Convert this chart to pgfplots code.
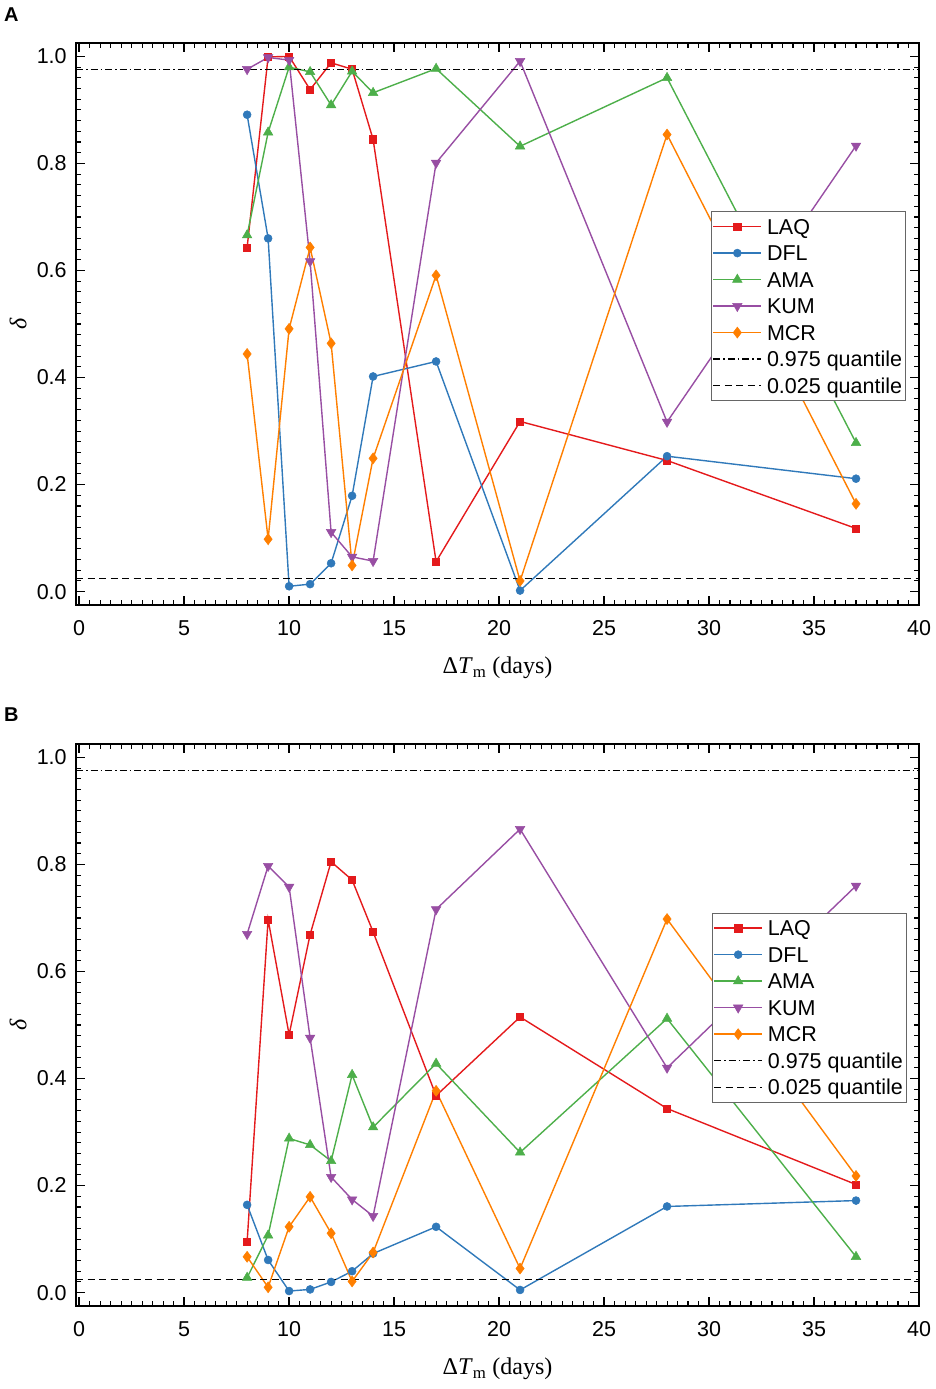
\documentclass[border=0pt]{standalone}
\usepackage{fontspec}
\setmainfont{Liberation Sans}
\newfontfamily\serifA{Liberation Serif}
\usepackage{pgfplots}
\pgfplotsset{compat=1.18}
\definecolor{cLAQ}{HTML}{E41A1C}
\definecolor{cDFL}{HTML}{3079BA}
\definecolor{cAMA}{HTML}{4DAF4A}
\definecolor{cKUM}{HTML}{984EA3}
\definecolor{cMCR}{HTML}{FF7F00}
\pgfplotsset{
 tl/.style={tick label style={font=\fontsize{21.5}{26}\selectfont},
  xticklabel style={yshift=-11.8pt},
  yticklabel style={xshift=-5.8pt, /pgf/number format/fixed, /pgf/number format/fixed zerofill, /pgf/number format/precision=1}},
 lb/.style={xlabel={{\serifA Δ\textit{T}\textsubscript{m} (days)}},
  ylabel={{\serifA\itshape δ}},
  label style={font=\fontsize{24}{28}\selectfont},
  xlabel style={at={(axis description cs:0.5,0)}, anchor=center, yshift=-63pt},
  ylabel style={at={(axis description cs:-0.0688,0.5)}, anchor=center}},
 lg/.style={legend cell align=left,
  legend style={font=\fontsize{21.5}{26}\selectfont, draw=black!60, line width=0.8pt,
    inner xsep=1pt, inner ysep=1.9pt, column sep=3pt,
    nodes={inner xsep=2pt, inner ysep=1pt, text height=20pt, text depth=4.5pt}}},
 li/.style={legend image code/.code={\draw[mark repeat=2,mark phase=2,##1] plot coordinates {(0pt,0pt) (24pt,0pt) (48pt,0pt)};}},
 base/.style={
  scale only axis, width=843pt, height=562pt,
  xmin=-0.15, xmax=40, ymin=-0.025, ymax=1.025,
  xtick={0,5,10,15,20,25,30,35,40},
  ytick={0,0.2,0.4,0.6,0.8,1.0},
  minor x tick num=9, minor y tick num=9,
  axis on top,
  tick align=inside, tick pos=both,
  major tick length=9pt, minor tick length=5pt,
  axis line style={black, line width=2pt},
  major tick style={black, line width=1.3pt},
  minor tick style={black, line width=1.1pt},
  /pgf/number format/assume math mode=true},
 sLAQ/.style={color=cLAQ, line width=1.4pt, mark=square*, mark size=3.6pt, mark options={solid, fill=cLAQ, line width=0.5pt}},
 sDFL/.style={color=cDFL, line width=1.4pt, mark=*, mark size=4pt, mark options={solid, fill=cDFL, line width=0.5pt}},
 sAMA/.style={color=cAMA, line width=1.4pt, mark=triangle*, mark size=5.5pt, mark options={solid, fill=cAMA, line width=0.5pt}},
 sKUM/.style={color=cKUM, line width=1.4pt, mark=triangle*, mark size=5.5pt, mark options={solid, fill=cKUM, line width=0.5pt, rotate=180}},
 sMCR/.style={color=cMCR, line width=1.4pt, mark=diamond*, mark size=5.5pt, mark options={solid, fill=cMCR, line width=0.5pt}},
 sQhi/.style={black, no markers, line width=1.2pt, dash pattern=on 7pt off 3pt on 1.5pt off 3pt},
 sQlo/.style={black, no markers, line width=1.3pt, dash pattern=on 7pt off 4.5pt},
}
\begin{document}
\begin{tikzpicture}
\path[use as bounding box] (0,0) rectangle (935pt,-1389pt);
\node[anchor=base west, inner sep=0pt, font=\fontsize{20}{24}\selectfont\bfseries] at (4pt,-22pt) {A};
\begin{axis}[tl, lb, lg, li, base,
  at={(76pt,-43pt)}, anchor=north west,
  legend style={at={(0.984,0.701)}, anchor=north east}]
\addplot[sLAQ] coordinates {(8,0.643)(9,0.999)(10,1.0)(11,0.938)(12,0.988)(13,0.976)(14,0.845)(17,0.056)(21,0.318)(28,0.245)(37,0.118)};
\addlegendentry{LAQ}
\addplot[sDFL] coordinates {(8,0.891)(9,0.660)(10,0.010)(11,0.014)(12,0.053)(13,0.179)(14,0.402)(17,0.430)(21,0.002)(28,0.253)(37,0.211)};
\addlegendentry{DFL}
\addplot[sAMA] coordinates {(8,0.666)(9,0.858)(10,0.980)(11,0.971)(12,0.909)(13,0.972)(14,0.932)(17,0.977)(21,0.832)(28,0.960)(37,0.278)};
\addlegendentry{AMA}
\addplot[sKUM] coordinates {(8,0.976)(9,0.998)(10,0.993)(11,0.617)(12,0.111)(13,0.065)(14,0.057)(17,0.801)(21,0.991)(28,0.317)(37,0.833)};
\addlegendentry{KUM}
\addplot[sMCR] coordinates {(8,0.444)(9,0.098)(10,0.491)(11,0.643)(12,0.464)(13,0.049)(14,0.249)(17,0.591)(21,0.020)(28,0.854)(37,0.164)};
\addlegendentry{MCR}
\addplot[sQhi] coordinates {(-0.15,0.975)(40,0.975)};
\addlegendentry{0.975 quantile}
\addplot[sQlo] coordinates {(-0.15,0.025)(40,0.025)};
\addlegendentry{0.025 quantile}
\end{axis}
\node[anchor=base west, inner sep=0pt, font=\fontsize{20}{24}\selectfont\bfseries] at (4pt,-721pt) {B};
\begin{axis}[tl, lb, lg, li, base,
  at={(76pt,-744pt)}, anchor=north west,
  legend style={at={(0.985,0.7)}, anchor=north east}]
\addplot[sLAQ] coordinates {(8,0.095)(9,0.697)(10,0.482)(11,0.669)(12,0.805)(13,0.771)(14,0.674)(17,0.368)(21,0.515)(28,0.344)(37,0.202)};
\addlegendentry{LAQ}
\addplot[sDFL] coordinates {(8,0.164)(9,0.061)(10,0.003)(11,0.006)(12,0.020)(13,0.040)(14,0.073)(17,0.123)(21,0.005)(28,0.161)(37,0.172)};
\addlegendentry{DFL}
\addplot[sAMA] coordinates {(8,0.028)(9,0.107)(10,0.288)(11,0.276)(12,0.246)(13,0.407)(14,0.309)(17,0.428)(21,0.262)(28,0.512)(37,0.067)};
\addlegendentry{AMA}
\addplot[sKUM] coordinates {(8,0.670)(9,0.797)(10,0.758)(11,0.476)(12,0.216)(13,0.174)(14,0.143)(17,0.716)(21,0.866)(28,0.420)(37,0.760)};
\addlegendentry{KUM}
\addplot[sMCR] coordinates {(8,0.067)(9,0.010)(10,0.123)(11,0.179)(12,0.111)(13,0.021)(14,0.075)(17,0.377)(21,0.045)(28,0.698)(37,0.218)};
\addlegendentry{MCR}
\addplot[sQhi] coordinates {(-0.15,0.975)(40,0.975)};
\addlegendentry{0.975 quantile}
\addplot[sQlo] coordinates {(-0.15,0.025)(40,0.025)};
\addlegendentry{0.025 quantile}
\end{axis}
\end{tikzpicture}
\end{document}
